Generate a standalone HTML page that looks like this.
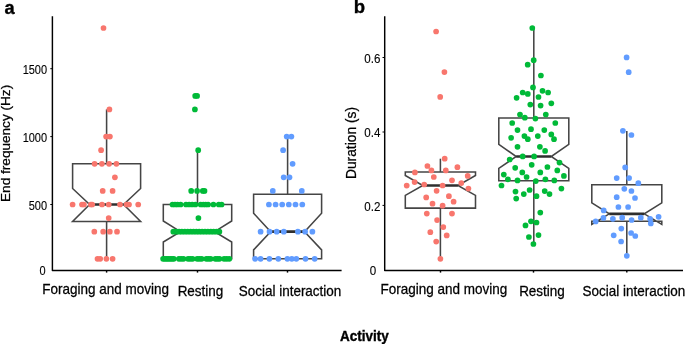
<!DOCTYPE html>
<html><head><meta charset="utf-8"><title>Figure</title>
<style>
html,body{margin:0;padding:0;background:#fff;}
body{width:685px;height:344px;overflow:hidden;font-family:"Liberation Sans",sans-serif;}
svg{display:block;will-change:transform;}
</style></head><body>
<svg width="685" height="344" viewBox="0 0 685 344">
<rect width="685" height="344" fill="#fff"/>
<g stroke="#454545" stroke-width="1.55" fill="none"><line x1="106.6" y1="109.4" x2="106.6" y2="163.8"/><line x1="106.6" y1="221.4" x2="106.6" y2="258.8"/><path d="M72.6 163.8 L72.6 188.5 L89.6 204.5 L72.6 221.4 L72.6 221.4 L140.6 221.4 L140.6 221.4 L123.6 204.5 L140.6 188.5 L140.6 163.8 Z" fill="#fff" stroke-linejoin="miter"/><line x1="89.6" y1="204.5" x2="123.6" y2="204.5" stroke-width="2.7" stroke="#2e2e2e"/></g>
<g fill="#F8766D"><circle cx="103.5" cy="28.0" r="2.85"/><circle cx="109.4" cy="109.4" r="2.85"/><circle cx="106.1" cy="136.6" r="2.85"/><circle cx="109.9" cy="136.6" r="2.85"/><circle cx="101.1" cy="150.2" r="2.85"/><circle cx="94.6" cy="163.8" r="2.85"/><circle cx="101.9" cy="163.8" r="2.85"/><circle cx="109.1" cy="163.8" r="2.85"/><circle cx="116.4" cy="163.8" r="2.85"/><circle cx="114.9" cy="177.3" r="2.85"/><circle cx="102.7" cy="190.9" r="2.85"/><circle cx="112.6" cy="190.9" r="2.85"/><circle cx="72.6" cy="204.5" r="2.85"/><circle cx="82.0" cy="204.5" r="2.85"/><circle cx="83.9" cy="204.5" r="2.85"/><circle cx="90.9" cy="204.5" r="2.85"/><circle cx="92.2" cy="204.5" r="2.85"/><circle cx="102.0" cy="204.5" r="2.85"/><circle cx="108.7" cy="204.5" r="2.85"/><circle cx="120.0" cy="204.5" r="2.85"/><circle cx="126.6" cy="204.5" r="2.85"/><circle cx="129.0" cy="204.5" r="2.85"/><circle cx="138.2" cy="204.5" r="2.85"/><circle cx="108.7" cy="218.1" r="2.85"/><circle cx="94.3" cy="231.7" r="2.85"/><circle cx="103.2" cy="231.7" r="2.85"/><circle cx="109.8" cy="231.7" r="2.85"/><circle cx="117.0" cy="231.7" r="2.85"/><circle cx="97.5" cy="258.8" r="2.85"/><circle cx="100.2" cy="258.8" r="2.85"/><circle cx="106.4" cy="258.8" r="2.85"/><circle cx="112.6" cy="258.8" r="2.85"/></g>
<g stroke="#454545" stroke-width="1.55" fill="none"><line x1="197.5" y1="150.2" x2="197.5" y2="204.5"/><path d="M163.3 204.5 L163.3 221.0 L180.4 231.7 L163.3 242.0 L163.3 258.8 L231.7 258.8 L231.7 242.0 L214.6 231.7 L231.7 221.0 L231.7 204.5 Z" fill="#fff" stroke-linejoin="miter"/><line x1="180.4" y1="231.7" x2="214.6" y2="231.7" stroke-width="2.7" stroke="#2e2e2e"/></g>
<g fill="#00BA38"><circle cx="195.2" cy="95.9" r="2.85"/><circle cx="197.1" cy="95.9" r="2.85"/><circle cx="194.9" cy="109.4" r="2.85"/><circle cx="198.2" cy="150.2" r="2.85"/><circle cx="191.2" cy="190.9" r="2.85"/><circle cx="197.1" cy="190.9" r="2.85"/><circle cx="202.8" cy="190.9" r="2.85"/><circle cx="204.5" cy="190.9" r="2.85"/><circle cx="172.5" cy="204.5" r="2.85"/><circle cx="175.0" cy="204.5" r="2.85"/><circle cx="177.5" cy="204.5" r="2.85"/><circle cx="180.6" cy="204.5" r="2.85"/><circle cx="186.0" cy="204.5" r="2.85"/><circle cx="189.1" cy="204.5" r="2.85"/><circle cx="192.2" cy="204.5" r="2.85"/><circle cx="195.4" cy="204.5" r="2.85"/><circle cx="200.7" cy="204.5" r="2.85"/><circle cx="203.3" cy="204.5" r="2.85"/><circle cx="205.7" cy="204.5" r="2.85"/><circle cx="208.1" cy="204.5" r="2.85"/><circle cx="213.4" cy="204.5" r="2.85"/><circle cx="218.8" cy="204.5" r="2.85"/><circle cx="221.6" cy="204.5" r="2.85"/><circle cx="198.4" cy="218.1" r="2.85"/><circle cx="173.3" cy="231.7" r="2.85"/><circle cx="176.2" cy="231.7" r="2.85"/><circle cx="179.1" cy="231.7" r="2.85"/><circle cx="181.9" cy="231.7" r="2.85"/><circle cx="184.8" cy="231.7" r="2.85"/><circle cx="187.7" cy="231.7" r="2.85"/><circle cx="190.6" cy="231.7" r="2.85"/><circle cx="193.5" cy="231.7" r="2.85"/><circle cx="196.4" cy="231.7" r="2.85"/><circle cx="199.2" cy="231.7" r="2.85"/><circle cx="202.1" cy="231.7" r="2.85"/><circle cx="205.0" cy="231.7" r="2.85"/><circle cx="207.9" cy="231.7" r="2.85"/><circle cx="210.8" cy="231.7" r="2.85"/><circle cx="213.6" cy="231.7" r="2.85"/><circle cx="216.5" cy="231.7" r="2.85"/><circle cx="219.4" cy="231.7" r="2.85"/><circle cx="163.1" cy="258.8" r="2.85"/><circle cx="164.9" cy="258.8" r="2.85"/><circle cx="166.7" cy="258.8" r="2.85"/><circle cx="168.4" cy="258.8" r="2.85"/><circle cx="170.2" cy="258.8" r="2.85"/><circle cx="172.0" cy="258.8" r="2.85"/><circle cx="173.8" cy="258.8" r="2.85"/><circle cx="178.9" cy="258.8" r="2.85"/><circle cx="181.2" cy="258.8" r="2.85"/><circle cx="183.5" cy="258.8" r="2.85"/><circle cx="188.1" cy="258.8" r="2.85"/><circle cx="190.3" cy="258.8" r="2.85"/><circle cx="192.6" cy="258.8" r="2.85"/><circle cx="197.2" cy="258.8" r="2.85"/><circle cx="199.4" cy="258.8" r="2.85"/><circle cx="201.7" cy="258.8" r="2.85"/><circle cx="206.3" cy="258.8" r="2.85"/><circle cx="208.5" cy="258.8" r="2.85"/><circle cx="210.7" cy="258.8" r="2.85"/><circle cx="215.3" cy="258.8" r="2.85"/><circle cx="217.4" cy="258.8" r="2.85"/><circle cx="219.5" cy="258.8" r="2.85"/><circle cx="224.1" cy="258.8" r="2.85"/><circle cx="226.7" cy="258.8" r="2.85"/><circle cx="229.3" cy="258.8" r="2.85"/></g>
<g stroke="#454545" stroke-width="1.55" fill="none"><line x1="287.6" y1="136.6" x2="287.6" y2="194.2"/><path d="M253.6 194.2 L253.6 213.2 L270.6 231.7 L253.6 249.9 L253.6 258.8 L321.6 258.8 L321.6 249.9 L304.6 231.7 L321.6 213.2 L321.6 194.2 Z" fill="#fff" stroke-linejoin="miter"/><line x1="270.6" y1="231.7" x2="304.6" y2="231.7" stroke-width="2.7" stroke="#2e2e2e"/></g>
<g fill="#619CFF"><circle cx="286.7" cy="136.6" r="2.85"/><circle cx="291.4" cy="136.6" r="2.85"/><circle cx="283.1" cy="150.2" r="2.85"/><circle cx="292.6" cy="163.8" r="2.85"/><circle cx="283.7" cy="177.3" r="2.85"/><circle cx="289.5" cy="177.3" r="2.85"/><circle cx="272.8" cy="190.9" r="2.85"/><circle cx="301.8" cy="190.9" r="2.85"/><circle cx="268.9" cy="204.5" r="2.85"/><circle cx="275.6" cy="204.5" r="2.85"/><circle cx="282.2" cy="204.5" r="2.85"/><circle cx="288.8" cy="204.5" r="2.85"/><circle cx="295.5" cy="204.5" r="2.85"/><circle cx="302.3" cy="204.5" r="2.85"/><circle cx="260.6" cy="231.7" r="2.85"/><circle cx="269.5" cy="231.7" r="2.85"/><circle cx="276.7" cy="231.7" r="2.85"/><circle cx="283.8" cy="231.7" r="2.85"/><circle cx="297.9" cy="231.7" r="2.85"/><circle cx="305.1" cy="231.7" r="2.85"/><circle cx="312.4" cy="231.7" r="2.85"/><circle cx="255.1" cy="258.8" r="2.85"/><circle cx="260.6" cy="258.8" r="2.85"/><circle cx="269.4" cy="258.8" r="2.85"/><circle cx="278.3" cy="258.8" r="2.85"/><circle cx="287.4" cy="258.8" r="2.85"/><circle cx="291.8" cy="258.8" r="2.85"/><circle cx="296.3" cy="258.8" r="2.85"/><circle cx="305.5" cy="258.8" r="2.85"/><circle cx="314.7" cy="258.8" r="2.85"/></g>
<g stroke="#454545" stroke-width="1.55" fill="none"><line x1="440.4" y1="158.7" x2="440.4" y2="172.0"/><line x1="440.4" y1="208.1" x2="440.4" y2="258.8"/><path d="M405.3 172.0 L405.3 175.5 L422.8 185.5 L405.3 195.4 L405.3 208.1 L475.5 208.1 L475.5 195.4 L457.9 185.5 L475.5 175.5 L475.5 172.0 Z" fill="#fff" stroke-linejoin="miter"/><line x1="422.8" y1="185.5" x2="457.9" y2="185.5" stroke-width="2.7" stroke="#2e2e2e"/></g>
<g fill="#F8766D"><circle cx="436.1" cy="31.5" r="2.85"/><circle cx="444.4" cy="72.1" r="2.85"/><circle cx="440.2" cy="96.9" r="2.85"/><circle cx="444.7" cy="158.7" r="2.85"/><circle cx="427.4" cy="166.0" r="2.85"/><circle cx="457.4" cy="167.2" r="2.85"/><circle cx="431.4" cy="170.4" r="2.85"/><circle cx="445.8" cy="170.4" r="2.85"/><circle cx="414.9" cy="172.4" r="2.85"/><circle cx="467.7" cy="175.9" r="2.85"/><circle cx="433.8" cy="177.0" r="2.85"/><circle cx="452.0" cy="180.3" r="2.85"/><circle cx="414.6" cy="182.1" r="2.85"/><circle cx="461.3" cy="183.1" r="2.85"/><circle cx="424.2" cy="184.5" r="2.85"/><circle cx="406.7" cy="185.6" r="2.85"/><circle cx="442.6" cy="185.5" r="2.85"/><circle cx="468.4" cy="188.6" r="2.85"/><circle cx="436.6" cy="190.8" r="2.85"/><circle cx="426.2" cy="197.4" r="2.85"/><circle cx="448.9" cy="196.2" r="2.85"/><circle cx="453.6" cy="201.7" r="2.85"/><circle cx="432.5" cy="203.7" r="2.85"/><circle cx="442.6" cy="205.7" r="2.85"/><circle cx="426.8" cy="213.6" r="2.85"/><circle cx="452.0" cy="213.6" r="2.85"/><circle cx="437.1" cy="220.1" r="2.85"/><circle cx="443.3" cy="227.1" r="2.85"/><circle cx="430.3" cy="232.2" r="2.85"/><circle cx="446.7" cy="235.4" r="2.85"/><circle cx="436.2" cy="241.6" r="2.85"/><circle cx="440.4" cy="258.8" r="2.85"/></g>
<g stroke="#454545" stroke-width="1.55" fill="none"><line x1="533.8" y1="28.0" x2="533.8" y2="117.9"/><line x1="533.8" y1="180.8" x2="533.8" y2="244.0"/><path d="M498.8 117.9 L498.8 144.4 L516.2 156.5 L498.8 168.4 L498.8 180.8 L568.8 180.8 L568.8 168.4 L551.2 156.5 L568.8 144.4 L568.8 117.9 Z" fill="#fff" stroke-linejoin="miter"/><line x1="516.2" y1="156.5" x2="551.2" y2="156.5" stroke-width="2.7" stroke="#2e2e2e"/></g>
<g fill="#00BA38"><circle cx="532.3" cy="28.0" r="2.85"/><circle cx="533.7" cy="60.2" r="2.85"/><circle cx="527.7" cy="64.7" r="2.85"/><circle cx="540.9" cy="75.5" r="2.85"/><circle cx="533.0" cy="87.4" r="2.85"/><circle cx="542.5" cy="90.8" r="2.85"/><circle cx="522.7" cy="92.5" r="2.85"/><circle cx="548.1" cy="92.5" r="2.85"/><circle cx="527.8" cy="93.9" r="2.85"/><circle cx="538.5" cy="97.0" r="2.85"/><circle cx="516.6" cy="97.8" r="2.85"/><circle cx="551.3" cy="103.3" r="2.85"/><circle cx="530.3" cy="104.6" r="2.85"/><circle cx="540.6" cy="105.6" r="2.85"/><circle cx="520.0" cy="114.5" r="2.85"/><circle cx="545.8" cy="114.5" r="2.85"/><circle cx="524.8" cy="117.7" r="2.85"/><circle cx="535.4" cy="118.6" r="2.85"/><circle cx="512.2" cy="123.0" r="2.85"/><circle cx="555.3" cy="123.0" r="2.85"/><circle cx="517.5" cy="130.1" r="2.85"/><circle cx="531.0" cy="129.2" r="2.85"/><circle cx="544.3" cy="130.1" r="2.85"/><circle cx="511.1" cy="137.8" r="2.85"/><circle cx="524.4" cy="136.1" r="2.85"/><circle cx="527.8" cy="139.2" r="2.85"/><circle cx="537.8" cy="136.1" r="2.85"/><circle cx="551.3" cy="134.4" r="2.85"/><circle cx="554.0" cy="139.2" r="2.85"/><circle cx="517.5" cy="146.8" r="2.85"/><circle cx="539.9" cy="146.8" r="2.85"/><circle cx="545.1" cy="150.9" r="2.85"/><circle cx="522.7" cy="156.4" r="2.85"/><circle cx="534.1" cy="156.4" r="2.85"/><circle cx="509.7" cy="159.5" r="2.85"/><circle cx="559.5" cy="162.6" r="2.85"/><circle cx="531.7" cy="164.8" r="2.85"/><circle cx="515.2" cy="167.8" r="2.85"/><circle cx="547.4" cy="167.0" r="2.85"/><circle cx="557.3" cy="170.4" r="2.85"/><circle cx="522.3" cy="172.4" r="2.85"/><circle cx="540.3" cy="172.4" r="2.85"/><circle cx="503.8" cy="174.6" r="2.85"/><circle cx="563.9" cy="175.9" r="2.85"/><circle cx="526.6" cy="177.0" r="2.85"/><circle cx="507.9" cy="179.3" r="2.85"/><circle cx="545.4" cy="179.3" r="2.85"/><circle cx="517.5" cy="180.4" r="2.85"/><circle cx="554.3" cy="180.4" r="2.85"/><circle cx="535.8" cy="181.1" r="2.85"/><circle cx="501.5" cy="185.5" r="2.85"/><circle cx="561.4" cy="188.6" r="2.85"/><circle cx="529.6" cy="190.0" r="2.85"/><circle cx="515.5" cy="191.6" r="2.85"/><circle cx="544.7" cy="191.1" r="2.85"/><circle cx="523.8" cy="194.1" r="2.85"/><circle cx="549.5" cy="194.1" r="2.85"/><circle cx="536.5" cy="196.2" r="2.85"/><circle cx="516.2" cy="198.6" r="2.85"/><circle cx="540.3" cy="212.6" r="2.85"/><circle cx="531.0" cy="221.3" r="2.85"/><circle cx="536.5" cy="222.5" r="2.85"/><circle cx="525.5" cy="225.4" r="2.85"/><circle cx="538.5" cy="235.1" r="2.85"/><circle cx="528.9" cy="237.0" r="2.85"/><circle cx="533.4" cy="244.0" r="2.85"/></g>
<g stroke="#454545" stroke-width="1.55" fill="none"><line x1="626.8" y1="131" x2="626.8" y2="184.7"/><line x1="626.8" y1="221.2" x2="626.8" y2="255.8"/><path d="M591.8 184.7 L591.8 202.8 L609.3 213.8 L591.8 224.4 L591.8 221.2 L661.8 221.2 L661.8 224.4 L644.3 213.8 L661.8 202.8 L661.8 184.7 Z" fill="#fff"/><line x1="609.3" y1="213.8" x2="644.3" y2="213.8" stroke-width="2.7" stroke="#2e2e2e"/></g>
<g fill="#619CFF"><circle cx="626.6" cy="57.4" r="2.85"/><circle cx="628.7" cy="72.2" r="2.85"/><circle cx="622.9" cy="130.8" r="2.85"/><circle cx="631.4" cy="135.0" r="2.85"/><circle cx="625.2" cy="167.4" r="2.85"/><circle cx="616.7" cy="178.1" r="2.85"/><circle cx="629.1" cy="178.1" r="2.85"/><circle cx="638.3" cy="183.2" r="2.85"/><circle cx="624.3" cy="188.8" r="2.85"/><circle cx="631.4" cy="191.0" r="2.85"/><circle cx="616.7" cy="197.2" r="2.85"/><circle cx="635.0" cy="198.0" r="2.85"/><circle cx="618.4" cy="207.0" r="2.85"/><circle cx="628.1" cy="207.0" r="2.85"/><circle cx="603.7" cy="210.4" r="2.85"/><circle cx="658.6" cy="216.8" r="2.85"/><circle cx="603.4" cy="217.9" r="2.85"/><circle cx="622.2" cy="217.7" r="2.85"/><circle cx="640.8" cy="217.7" r="2.85"/><circle cx="612.9" cy="218.8" r="2.85"/><circle cx="650.1" cy="218.8" r="2.85"/><circle cx="631.6" cy="220.0" r="2.85"/><circle cx="595.7" cy="221.4" r="2.85"/><circle cx="650.8" cy="223.4" r="2.85"/><circle cx="621.3" cy="228.6" r="2.85"/><circle cx="631.1" cy="233.0" r="2.85"/><circle cx="635.3" cy="236.0" r="2.85"/><circle cx="613.7" cy="235.3" r="2.85"/><circle cx="621.1" cy="241.5" r="2.85"/><circle cx="626.8" cy="255.8" r="2.85"/></g>
<g stroke="#000" stroke-width="1.45" fill="none" stroke-linejoin="round"><path d="M52.4 16.2 V270.4 H341.6"/><path d="M384.7 16.2 V270.4 H683"/><line x1="50.3" y1="204.5" x2="52.4" y2="204.5" stroke-width="1"/><line x1="50.3" y1="136.6" x2="52.4" y2="136.6" stroke-width="1"/><line x1="50.3" y1="68.7" x2="52.4" y2="68.7" stroke-width="1"/><line x1="382.5" y1="57.5" x2="384.7" y2="57.5" stroke-width="1"/><line x1="382.5" y1="132" x2="384.7" y2="132" stroke-width="1"/><line x1="382.5" y1="205.4" x2="384.7" y2="205.4" stroke-width="1"/><line x1="106.6" y1="270.4" x2="106.6" y2="272.6"/><line x1="197.5" y1="270.4" x2="197.5" y2="272.6"/><line x1="287.5" y1="270.4" x2="287.5" y2="272.6"/><line x1="440.5" y1="270.4" x2="440.5" y2="272.6"/><line x1="533.5" y1="270.4" x2="533.5" y2="272.6"/><line x1="626.8" y1="270.4" x2="626.8" y2="272.6"/></g>
<g font-family="Liberation Sans, sans-serif" fill="#000" stroke="#000" stroke-width="0.25"><text x="4.4" y="13.5" font-size="18.3" font-weight="bold" stroke-width="0.35">a</text><text x="353.8" y="13.0" font-size="18.5" font-weight="bold" stroke-width="0.35">b</text><text transform="translate(45.5 274.9) scale(1 1.09)" font-size="11" stroke-width="0.1" text-anchor="end">0</text><text transform="translate(47.1 209.6) scale(1 1.09)" font-size="11" stroke-width="0.1" text-anchor="end">500</text><text transform="translate(47.1 141.7) scale(1 1.09)" font-size="11" stroke-width="0.1" text-anchor="end">1000</text><text transform="translate(47.1 73.8) scale(1 1.09)" font-size="11" stroke-width="0.1" text-anchor="end">1500</text><text transform="translate(376.3 275.2) scale(1 1.05)" font-size="11.6" stroke-width="0.1" text-anchor="end">0</text><text transform="translate(380.4 62.6) scale(1 1.05)" font-size="11.6" stroke-width="0.1" text-anchor="end">0.6</text><text transform="translate(380.4 137.1) scale(1 1.05)" font-size="11.6" stroke-width="0.1" text-anchor="end">0.4</text><text transform="translate(380.4 210.5) scale(1 1.05)" font-size="11.6" stroke-width="0.1" text-anchor="end">0.2</text><text transform="translate(105.6 294.4) scale(1 1.09)" font-size="13.5" text-anchor="middle">Foraging and moving</text><text transform="translate(200.5 295.8) scale(1 1.09)" font-size="13.5" text-anchor="middle">Resting</text><text transform="translate(290 295.8) scale(1 1.09)" font-size="13.5" text-anchor="middle">Social interaction</text><text transform="translate(443.8 294.3) scale(1 1.09)" font-size="13.5" text-anchor="middle">Foraging and moving</text><text transform="translate(542 295.8) scale(1 1.09)" font-size="13.5" text-anchor="middle">Resting</text><text transform="translate(633.8 295.8) scale(1 1.09)" font-size="13.5" text-anchor="middle">Social interaction</text><text transform="translate(364.3 341.1) scale(1 1.09)" font-size="13.5" font-weight="bold" stroke-width="0.35" text-anchor="middle">Activity</text><text transform="translate(9.5 143.4) rotate(-90)" font-size="13.6" text-anchor="middle">End frequency (Hz)</text><text transform="translate(355.6 143.0) rotate(-90)" font-size="13.8" text-anchor="middle">Duration (s)</text></g>
</svg>
</body></html>
